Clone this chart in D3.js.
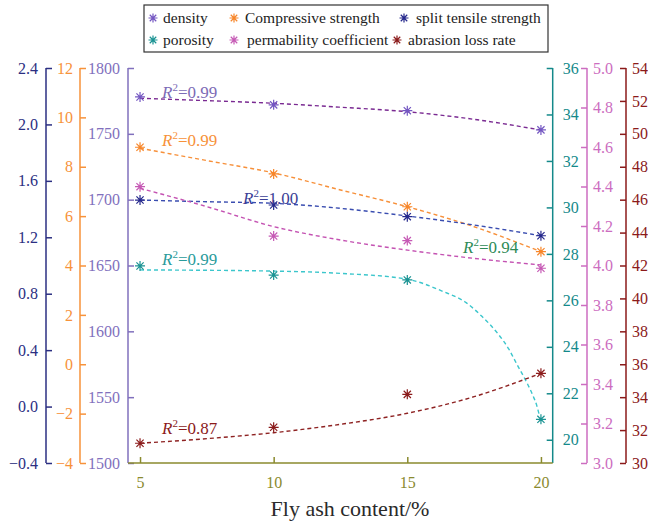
<!DOCTYPE html>
<html><head><meta charset="utf-8">
<script src="https://cdn.jsdelivr.net/npm/d3@7"></script>
<style>body{margin:0;background:#fff;}svg{display:block;}</style>
</head><body><svg id="c" width="648" height="523" font-family="Liberation Serif, Times New Roman, serif"></svg>
<script>
// ---- data ----
const flyAsh = [5, 10, 15, 20];
const density = [1778, 1772, 1767.6, 1753];
const compressive = [8.79, 7.71, 6.38, 4.56];
const splitTensile = [1.464, 1.429, 1.346, 1.211];
const porosity = [27.48, 27.09, 26.88, 20.88];
const permeability = [4.399, 4.149, 4.126, 3.986];
const abrasion = [31.2, 32.17, 34.17, 35.45];

// fitted trend lines
const fitX = [5, 7.5, 10, 12.5, 15, 17.5, 20];
const densityFit = [1777.0, 1775.2, 1773.2, 1770.2, 1766.8, 1761.0, 1752.9];
const compressiveFit = [8.75, 8.25, 7.75, 7.06, 6.38, 5.57, 4.56];
const splitTensileFit = [1.464, 1.452, 1.441, 1.405, 1.351, 1.287, 1.211];
const permeabilityFit = [4.391, 4.298, 4.197, 4.129, 4.078, 4.036, 4.003];
const abrasionFit = [31.20, 31.48, 31.84, 32.35, 33.02, 34.03, 35.45];
const porosityFitX = [5, 10, 12.5, 15, 16.3, 17.2, 17.8, 18.4, 18.8, 19.1, 19.4, 19.7, 19.85, 19.93];
const porosityFit = [27.31, 27.26, 27.16, 26.91, 26.40, 25.90, 25.30, 24.55, 23.90, 23.25, 22.62, 21.90, 21.45, 21.10];

const r2Labels = ["0.99", "0.99", "1.00", "0.94", "0.99", "0.87"];

const xTicks = [5, 10, 15, 20];
const navyTicks = [-0.4, 0.0, 0.4, 0.8, 1.2, 1.6, 2.0, 2.4];
const orangeTicks = [-4, -2, 0, 2, 4, 6, 8, 10, 12];
const purpleTicks = [1500, 1550, 1600, 1650, 1700, 1750, 1800];
const tealTicks = [20, 22, 24, 26, 28, 30, 32, 34, 36];
const pinkTicks = [3.0, 3.2, 3.4, 3.6, 3.8, 4.0, 4.2, 4.4, 4.6, 4.8, 5.0];
const redTicks = [30, 32, 34, 36, 38, 40, 42, 44, 46, 48, 50, 52, 54];

const legendNames = ["density", "Compressive strength", "split tensile strength", "porosity", "permability coefficient", "abrasion loss rate"];

// ---- layout ----
const FONT = "Liberation Serif, Times New Roman, serif";
const svg = d3.select("#c");
const plotTop = 68, plotBottom = 463;
const x = d3.scaleLinear().domain([4.55, 20.44]).range([128, 552.7]);
const yNavy = d3.scaleLinear().domain([-0.4, 2.4]).range([plotBottom, plotTop]);
const yOrange = d3.scaleLinear().domain([-4, 12]).range([plotBottom, plotTop]);
const yPurple = d3.scaleLinear().domain([1500, 1800]).range([plotBottom, plotTop]);
const yTeal = d3.scaleLinear().domain([19, 36]).range([plotBottom, plotTop]);
const yPink = d3.scaleLinear().domain([3, 5]).range([plotBottom, plotTop]);
const yRed = d3.scaleLinear().domain([30, 54]).range([plotBottom, plotTop]);

const C = {
  olive: "#8a8a2e",
  navyAxis: "#2b2f82", orangeAxis: "#f7923a", purpleAxis: "#8170bd",
  tealAxis: "#14898a", pinkAxis: "#cc6dc0", redAxis: "#8b1a1a"
};

function styleAxis(g, color) {
  g.attr("font-family", FONT).attr("font-size", 16);
  g.select(".domain").remove();
  g.selectAll(".tick line").attr("stroke", color).attr("stroke-width", 1.5);
  g.selectAll(".tick text").attr("fill", color).attr("font-size", 16).attr("font-family", FONT);
}
function vAxis(scale, ticks, xpos, color, side, fmt, pad) {
  const ax = (side === "left" ? d3.axisLeft(scale) : d3.axisRight(scale))
    .tickValues(ticks).tickFormat(fmt).tickSizeOuter(0).tickSizeInner(-6).tickPadding(pad);
  const g = svg.append("g").attr("transform", `translate(${xpos},0)`).call(ax);
  styleAxis(g, color);
  g.append("line").attr("x1", 0).attr("x2", 0).attr("y1", plotTop).attr("y2", plotBottom)
    .attr("stroke", color).attr("stroke-width", 1.5);
  return g;
}
vAxis(yNavy, navyTicks, 46, C.navyAxis, "left", d3.format(".1f"), 8);
vAxis(yOrange, orangeTicks, 80, C.orangeAxis, "left", d3.format("d"), 7);
vAxis(yPurple, purpleTicks, 128, C.purpleAxis, "left", d3.format("d"), 8);
vAxis(yTeal, tealTicks, 552.7, C.tealAxis, "right", d3.format("d"), 10);
vAxis(yPink, pinkTicks, 587, C.pinkAxis, "right", d3.format(".1f"), 6);
vAxis(yRed, redTicks, 626, C.redAxis, "right", d3.format("d"), 6);

// x axis
const xg = svg.append("g").attr("transform", `translate(0,${plotBottom})`)
  .call(d3.axisBottom(x).tickValues(xTicks).tickSizeInner(-6).tickSizeOuter(0).tickPadding(14).tickFormat(d3.format("d")));
styleAxis(xg, C.olive);
xg.append("line").attr("x1", 128).attr("x2", 552.7).attr("stroke", C.olive).attr("stroke-width", 1.5);
svg.append("text").attr("x", 350).attr("y", 516).attr("text-anchor", "middle").attr("font-family", FONT)
  .attr("font-size", 22).attr("fill", "#2a2a2a").text("Fly ash content/%");

// ---- series ----
const series = [
  {vals: density, fit: densityFit, fx: fitX, y: yPurple, mc: "#7457c2", lc: "#7a2a92"},
  {vals: compressive, fit: compressiveFit, fx: fitX, y: yOrange, mc: "#f7862a", lc: "#f7903a"},
  {vals: splitTensile, fit: splitTensileFit, fx: fitX, y: yNavy, mc: "#25288c", lc: "#3a4db0"},
  {vals: porosity, fit: porosityFit, fx: porosityFitX, y: yTeal, mc: "#1a9393", lc: "#3cc6cc"},
  {vals: permeability, fit: permeabilityFit, fx: fitX, y: yPink, mc: "#c65ab5", lc: "#c452b2"},
  {vals: abrasion, fit: abrasionFit, fx: fitX, y: yRed, mc: "#8b1b1b", lc: "#8e2222"}
];

function star(r) {
  const d = r * 0.72;
  return `M0,${-r}V${r}M${-r},0H${r}M${-d},${-d}L${d},${d}M${-d},${d}L${d},${-d}`;
}

series.forEach(s => {
  const line = d3.line().x((d, i) => x(s.fx[i])).y(d => s.y(d)).curve(d3.curveMonotoneX);
  svg.append("path").attr("d", line(s.fit)).attr("fill", "none")
    .attr("stroke", s.lc).attr("stroke-width", 1.4).attr("stroke-dasharray", "4,3");
});
series.forEach(s => {
  svg.selectAll(null).data(s.vals).enter().append("path")
    .attr("transform", (d, i) => `translate(${x(flyAsh[i])},${s.y(d)})`)
    .attr("d", star(5)).attr("stroke", s.mc).attr("stroke-width", 1.2).attr("fill", "none");
});

// R² labels
const r2Pos = [
  {x: 162, y: 98, c: "#7c6bb6"},
  {x: 162, y: 146, c: "#f7923a"},
  {x: 243, y: 204, c: "#3b3f96"},
  {x: 463, y: 253, c: "#2e8b57"},
  {x: 162, y: 265, c: "#2a9b9b"},
  {x: 162, y: 434, c: "#8b1a1a"}
];
r2Labels.forEach((v, i) => {
  const p = r2Pos[i];
  const t = svg.append("text").attr("x", p.x).attr("y", p.y).attr("fill", p.c)
    .attr("font-size", 17).attr("font-family", FONT);
  t.append("tspan").attr("font-style", "italic").text("R");
  t.append("tspan").attr("font-size", 11).attr("dy", -7).text("2");
  t.append("tspan").attr("dy", 7).text("=" + v);
});

// legend
svg.append("rect").attr("x", 144).attr("y", 5).attr("width", 404).attr("height", 47)
  .attr("fill", "#fff").attr("stroke", "#333").attr("stroke-width", 1.2);
const legPos = [
  {mx: 153, tx: 163, y: 18}, {mx: 234, tx: 245, y: 18}, {mx: 404, tx: 416, y: 18},
  {mx: 153, tx: 163, y: 40}, {mx: 234, tx: 247, y: 40}, {mx: 397, tx: 408, y: 40}
];
legendNames.forEach((n, i) => {
  const p = legPos[i];
  svg.append("path").attr("transform", `translate(${p.mx},${p.y})`).attr("d", star(4.5))
    .attr("stroke", series[i].mc).attr("stroke-width", 1.2).attr("fill", "none");
  svg.append("text").attr("x", p.tx).attr("y", p.y + 5).attr("font-size", 15.5)
    .attr("font-family", FONT).attr("fill", "#222").text(n);
});
</script></body></html>
